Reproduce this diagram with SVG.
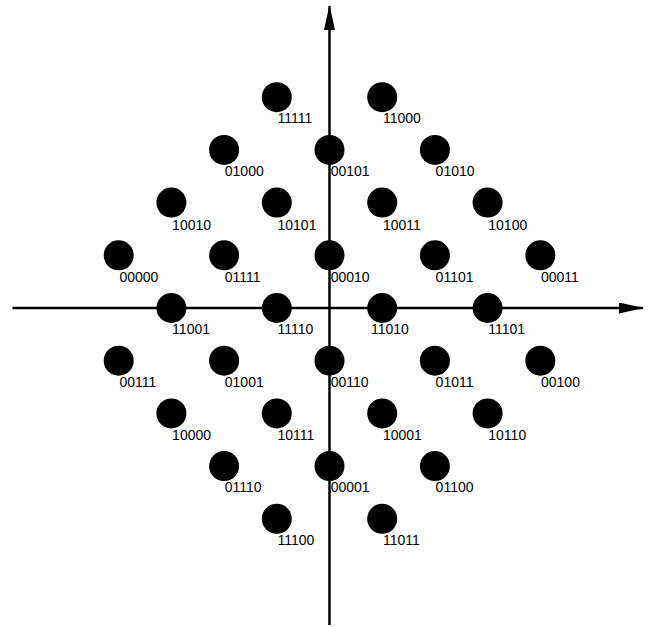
<svg xmlns="http://www.w3.org/2000/svg" width="652" height="627" viewBox="0 0 652 627">
<style>
.d{fill:#000}
.t{font-family:"Liberation Sans",Arial,sans-serif;font-size:14px;fill:#000}
.ax{stroke:#000;stroke-width:2.5;fill:none;marker-end:url(#ah)}
</style>
<defs>
<marker id="ah" markerUnits="userSpaceOnUse" markerWidth="25" markerHeight="12" refX="24" refY="5.5" orient="auto">
<path d="M0,0 L25,5.5 L0,11 z" fill="#000"/>
</marker>
</defs>
<rect width="652" height="627" fill="#fff"/>
<g id="connectors">
<line class="ax" x1="329.5" y1="625" x2="329.5" y2="6"/>
<line class="ax" x1="12.5" y1="308" x2="643" y2="308"/>
</g>
<g id="n11111"><circle class="d" cx="276.8" cy="97.2" r="15"/><text class="t" x="277.5" y="123.2">11111</text></g>
<g id="n11000"><circle class="d" cx="382.2" cy="97.2" r="15"/><text class="t" x="382.9" y="123.2">11000</text></g>

<g id="n01000"><circle class="d" cx="224.1" cy="149.9" r="15"/><text class="t" x="224.8" y="175.9">01000</text></g>
<g id="n00101"><circle class="d" cx="329.5" cy="149.9" r="15"/><text class="t" x="330.7" y="175.9">00101</text></g>
<g id="n01010"><circle class="d" cx="434.9" cy="149.9" r="15"/><text class="t" x="435.6" y="175.9">01010</text></g>

<g id="n10010"><circle class="d" cx="171.4" cy="202.6" r="15"/><text class="t" x="172.1" y="229.6">10010</text></g>
<g id="n10101"><circle class="d" cx="276.8" cy="202.6" r="15"/><text class="t" x="277.5" y="229.6">10101</text></g>
<g id="n10011"><circle class="d" cx="382.2" cy="202.6" r="15"/><text class="t" x="382.9" y="229.6">10011</text></g>
<g id="n10100"><circle class="d" cx="487.6" cy="202.6" r="15"/><text class="t" x="488.3" y="229.6">10100</text></g>

<g id="n00000"><circle class="d" cx="118.7" cy="255.3" r="15"/><text class="t" x="119.4" y="281.6">00000</text></g>
<g id="n01111"><circle class="d" cx="224.1" cy="255.3" r="15"/><text class="t" x="224.8" y="281.6">01111</text></g>
<g id="n00010"><circle class="d" cx="329.5" cy="255.3" r="15"/><text class="t" x="330.7" y="281.6">00010</text></g>
<g id="n01101"><circle class="d" cx="434.9" cy="255.3" r="15"/><text class="t" x="435.6" y="281.6">01101</text></g>
<g id="n00011"><circle class="d" cx="540.3" cy="255.3" r="15"/><text class="t" x="541" y="281.6">00011</text></g>

<g id="n11001"><circle class="d" cx="171.4" cy="308" r="15"/><text class="t" x="172.1" y="334.3">11001</text></g>
<g id="n11110"><circle class="d" cx="276.8" cy="308" r="15"/><text class="t" x="277.5" y="334.3">11110</text></g>
<g id="n11010"><circle class="d" cx="382.2" cy="308" r="15"/><text class="t" x="371" y="334.3">11010</text></g>
<g id="n11101"><circle class="d" cx="487.6" cy="308" r="15"/><text class="t" x="488.3" y="334.3">11101</text></g>

<g id="n00111"><circle class="d" cx="118.7" cy="360.7" r="15"/><text class="t" x="119.4" y="387">00111</text></g>
<g id="n01001"><circle class="d" cx="224.1" cy="360.7" r="15"/><text class="t" x="224.8" y="387">01001</text></g>
<g id="n00110"><circle class="d" cx="329.5" cy="360.7" r="15"/><text class="t" x="330.7" y="387">00110</text></g>
<g id="n01011"><circle class="d" cx="434.9" cy="360.7" r="15"/><text class="t" x="435.6" y="387">01011</text></g>
<g id="n00100"><circle class="d" cx="540.3" cy="360.7" r="15"/><text class="t" x="541" y="387">00100</text></g>

<g id="n10000"><circle class="d" cx="171.4" cy="413.4" r="15"/><text class="t" x="172.1" y="440">10000</text></g>
<g id="n10111"><circle class="d" cx="276.8" cy="413.4" r="15"/><text class="t" x="277.5" y="440">10111</text></g>
<g id="n10001"><circle class="d" cx="382.2" cy="413.4" r="15"/><text class="t" x="382.9" y="440">10001</text></g>
<g id="n10110"><circle class="d" cx="487.6" cy="413.4" r="15"/><text class="t" x="488.3" y="440">10110</text></g>

<g id="n01110"><circle class="d" cx="224.1" cy="466.1" r="15"/><text class="t" x="224.8" y="492.3">01110</text></g>
<g id="n00001"><circle class="d" cx="329.5" cy="466.1" r="15"/><text class="t" x="330.7" y="492.3">00001</text></g>
<g id="n01100"><circle class="d" cx="434.9" cy="466.1" r="15"/><text class="t" x="435.6" y="492.3">01100</text></g>

<g id="n11100"><circle class="d" cx="276.8" cy="518.8" r="15"/><text class="t" x="277.5" y="545">11100</text></g>
<g id="n11011"><circle class="d" cx="382.2" cy="518.8" r="15"/><text class="t" x="382.9" y="545">11011</text></g>
</svg>
